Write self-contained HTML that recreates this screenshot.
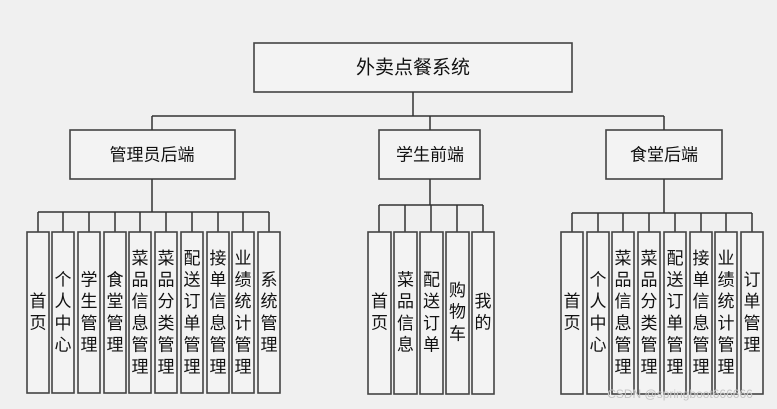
<!DOCTYPE html>
<html><head><meta charset="utf-8"><style>
html,body{margin:0;padding:0;background:#f0f0f0;}
svg{display:block;}
text{font-family:"Liberation Sans","Noto Sans CJK SC","WenQuanYi Zen Hei",sans-serif;fill:#111;}
</style></head><body>
<svg width="777" height="409" viewBox="0 0 777 409" xmlns="http://www.w3.org/2000/svg">
<rect width="777" height="409" fill="#f0f0f0"/>
<g fill="#f3f3f3" stroke="#444" stroke-width="1.6">
<rect x="254" y="43" width="318" height="49"/>
<rect x="70" y="130" width="165" height="49"/>
<rect x="379" y="130" width="101" height="49"/>
<rect x="606" y="130" width="116" height="49"/>
</g>
<g stroke="#333" stroke-width="1.5" fill="none">
<line x1="413" y1="92" x2="413" y2="116"/>
<line x1="152" y1="116" x2="664" y2="116"/>
<line x1="152" y1="116" x2="152" y2="130"/>
<line x1="430" y1="116" x2="430" y2="130"/>
<line x1="664" y1="116" x2="664" y2="130"/>
<line x1="152" y1="179" x2="152" y2="212"/>
<line x1="38" y1="212" x2="269" y2="212"/>
<line x1="430" y1="179" x2="430" y2="205"/>
<line x1="379" y1="205" x2="483" y2="205"/>
<line x1="664" y1="179" x2="664" y2="213"/>
<line x1="572" y1="213" x2="752" y2="213"/>
</g>
<g stroke="#333" stroke-width="1.5">
<line x1="38" y1="212" x2="38" y2="232"/><line x1="63" y1="212" x2="63" y2="232"/><line x1="89" y1="212" x2="89" y2="232"/><line x1="115" y1="212" x2="115" y2="232"/><line x1="140" y1="212" x2="140" y2="232"/><line x1="166" y1="212" x2="166" y2="232"/><line x1="192" y1="212" x2="192" y2="232"/><line x1="218" y1="212" x2="218" y2="232"/><line x1="243" y1="212" x2="243" y2="232"/><line x1="269" y1="212" x2="269" y2="232"/>
<line x1="379" y1="205" x2="379" y2="232"/><line x1="405" y1="205" x2="405" y2="232"/><line x1="431" y1="205" x2="431" y2="232"/><line x1="457" y1="205" x2="457" y2="232"/><line x1="483" y1="205" x2="483" y2="232"/>
<line x1="572" y1="213" x2="572" y2="232"/><line x1="598" y1="213" x2="598" y2="232"/><line x1="623" y1="213" x2="623" y2="232"/><line x1="649" y1="213" x2="649" y2="232"/><line x1="675" y1="213" x2="675" y2="232"/><line x1="701" y1="213" x2="701" y2="232"/><line x1="726" y1="213" x2="726" y2="232"/><line x1="752" y1="213" x2="752" y2="232"/>
</g>
<g fill="#f3f3f3" stroke="#444" stroke-width="1.6">
<rect x="27" y="232" width="22" height="161"/><rect x="52" y="232" width="22" height="161"/><rect x="78" y="232" width="22" height="161"/><rect x="104" y="232" width="22" height="161"/><rect x="129" y="232" width="22" height="161"/><rect x="155" y="232" width="22" height="161"/><rect x="181" y="232" width="22" height="161"/><rect x="207" y="232" width="22" height="161"/><rect x="232" y="232" width="22" height="161"/><rect x="258" y="232" width="22" height="161"/>
<rect x="368" y="232" width="23" height="162"/><rect x="394" y="232" width="23" height="162"/><rect x="420" y="232" width="23" height="162"/><rect x="446" y="232" width="23" height="162"/><rect x="472" y="232" width="22" height="162"/>
<rect x="561" y="232" width="22" height="162"/><rect x="587" y="232" width="22" height="162"/><rect x="612" y="232" width="22" height="162"/><rect x="638" y="232" width="22" height="162"/><rect x="664" y="232" width="22" height="162"/><rect x="690" y="232" width="22" height="162"/><rect x="715" y="232" width="22" height="162"/><rect x="741" y="232" width="22" height="162"/>
</g>
<g font-size="19" text-anchor="middle" dominant-baseline="central">
<text x="413" y="68">外卖点餐系统</text>
</g>
<g font-size="17" text-anchor="middle" dominant-baseline="central">
<text x="152" y="155">管理员后端</text>
<text x="430" y="155">学生前端</text>
<text x="664" y="155">食堂后端</text>
</g>
<g font-size="17" text-anchor="middle" dominant-baseline="central">
<text x="38" y="301"><tspan x="38">首</tspan><tspan x="38" dy="21.7">页</tspan></text>
<text x="63" y="279.5"><tspan x="63">个</tspan><tspan x="63" dy="21.7">人</tspan><tspan x="63" dy="21.7">中</tspan><tspan x="63" dy="21.7">心</tspan></text>
<text x="89" y="279.5"><tspan x="89">学</tspan><tspan x="89" dy="21.7">生</tspan><tspan x="89" dy="21.7">管</tspan><tspan x="89" dy="21.7">理</tspan></text>
<text x="115" y="279.5"><tspan x="115">食</tspan><tspan x="115" dy="21.7">堂</tspan><tspan x="115" dy="21.7">管</tspan><tspan x="115" dy="21.7">理</tspan></text>
<text x="140" y="257.8"><tspan x="140">菜</tspan><tspan x="140" dy="21.7">品</tspan><tspan x="140" dy="21.7">信</tspan><tspan x="140" dy="21.7">息</tspan><tspan x="140" dy="21.7">管</tspan><tspan x="140" dy="21.7">理</tspan></text>
<text x="166" y="257.8"><tspan x="166">菜</tspan><tspan x="166" dy="21.7">品</tspan><tspan x="166" dy="21.7">分</tspan><tspan x="166" dy="21.7">类</tspan><tspan x="166" dy="21.7">管</tspan><tspan x="166" dy="21.7">理</tspan></text>
<text x="192" y="257.8"><tspan x="192">配</tspan><tspan x="192" dy="21.7">送</tspan><tspan x="192" dy="21.7">订</tspan><tspan x="192" dy="21.7">单</tspan><tspan x="192" dy="21.7">管</tspan><tspan x="192" dy="21.7">理</tspan></text>
<text x="218" y="257.8"><tspan x="218">接</tspan><tspan x="218" dy="21.7">单</tspan><tspan x="218" dy="21.7">信</tspan><tspan x="218" dy="21.7">息</tspan><tspan x="218" dy="21.7">管</tspan><tspan x="218" dy="21.7">理</tspan></text>
<text x="243" y="257.8"><tspan x="243">业</tspan><tspan x="243" dy="21.7">绩</tspan><tspan x="243" dy="21.7">统</tspan><tspan x="243" dy="21.7">计</tspan><tspan x="243" dy="21.7">管</tspan><tspan x="243" dy="21.7">理</tspan></text>
<text x="269" y="279.5"><tspan x="269">系</tspan><tspan x="269" dy="21.7">统</tspan><tspan x="269" dy="21.7">管</tspan><tspan x="269" dy="21.7">理</tspan></text>

<text x="379.5" y="301"><tspan x="379.5">首</tspan><tspan x="379.5" dy="21.7">页</tspan></text>
<text x="405.5" y="279.5"><tspan x="405.5">菜</tspan><tspan x="405.5" dy="21.7">品</tspan><tspan x="405.5" dy="21.7">信</tspan><tspan x="405.5" dy="21.7">息</tspan></text>
<text x="431.5" y="279.5"><tspan x="431.5">配</tspan><tspan x="431.5" dy="21.7">送</tspan><tspan x="431.5" dy="21.7">订</tspan><tspan x="431.5" dy="21.7">单</tspan></text>
<text x="457.5" y="290"><tspan x="457.5">购</tspan><tspan x="457.5" dy="21.7">物</tspan><tspan x="457.5" dy="21.7">车</tspan></text>
<text x="483" y="301"><tspan x="483">我</tspan><tspan x="483" dy="21.7">的</tspan></text>

<text x="572" y="301"><tspan x="572">首</tspan><tspan x="572" dy="21.7">页</tspan></text>
<text x="598" y="279.5"><tspan x="598">个</tspan><tspan x="598" dy="21.7">人</tspan><tspan x="598" dy="21.7">中</tspan><tspan x="598" dy="21.7">心</tspan></text>
<text x="623" y="257.8"><tspan x="623">菜</tspan><tspan x="623" dy="21.7">品</tspan><tspan x="623" dy="21.7">信</tspan><tspan x="623" dy="21.7">息</tspan><tspan x="623" dy="21.7">管</tspan><tspan x="623" dy="21.7">理</tspan></text>
<text x="649" y="257.8"><tspan x="649">菜</tspan><tspan x="649" dy="21.7">品</tspan><tspan x="649" dy="21.7">分</tspan><tspan x="649" dy="21.7">类</tspan><tspan x="649" dy="21.7">管</tspan><tspan x="649" dy="21.7">理</tspan></text>
<text x="675" y="257.8"><tspan x="675">配</tspan><tspan x="675" dy="21.7">送</tspan><tspan x="675" dy="21.7">订</tspan><tspan x="675" dy="21.7">单</tspan><tspan x="675" dy="21.7">管</tspan><tspan x="675" dy="21.7">理</tspan></text>
<text x="701" y="257.8"><tspan x="701">接</tspan><tspan x="701" dy="21.7">单</tspan><tspan x="701" dy="21.7">信</tspan><tspan x="701" dy="21.7">息</tspan><tspan x="701" dy="21.7">管</tspan><tspan x="701" dy="21.7">理</tspan></text>
<text x="726" y="257.8"><tspan x="726">业</tspan><tspan x="726" dy="21.7">绩</tspan><tspan x="726" dy="21.7">统</tspan><tspan x="726" dy="21.7">计</tspan><tspan x="726" dy="21.7">管</tspan><tspan x="726" dy="21.7">理</tspan></text>
<text x="752" y="279.5"><tspan x="752">订</tspan><tspan x="752" dy="21.7">单</tspan><tspan x="752" dy="21.7">管</tspan><tspan x="752" dy="21.7">理</tspan></text>
</g>
<text x="680" y="398" font-size="12" text-anchor="middle" fill="#bbb" style="fill:#c4c4c4">CSDN @springboot666666</text>
</svg>
</body></html>
